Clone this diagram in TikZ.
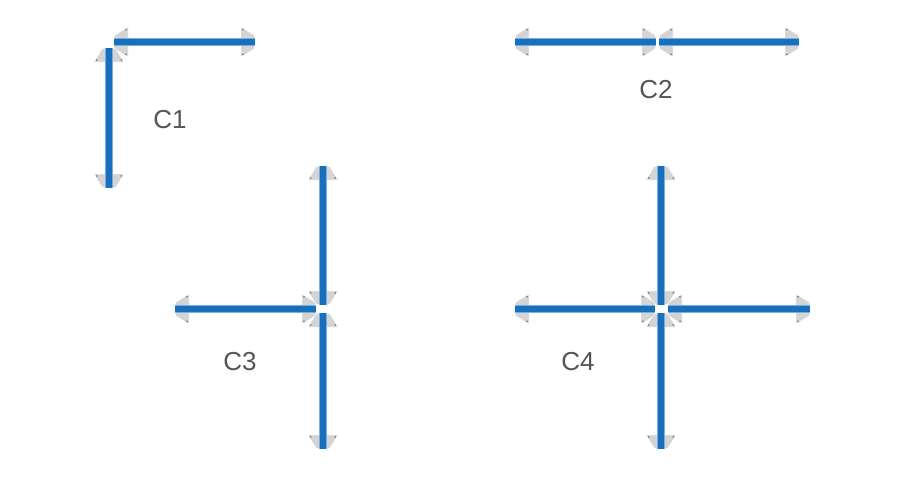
\documentclass[tikz,border=0pt]{standalone}
\usepackage{fontspec}
\setmainfont{Liberation Sans}
\definecolor{lineblue}{RGB}{22,112,190}
\definecolor{edgeblue}{RGB}{120,175,222}
\definecolor{tipgray}{RGB}{212,212,212}
\definecolor{dotgray}{RGB}{110,110,110}
\definecolor{labelgray}{RGB}{85,85,85}
\tikzset{
  tipshape/.pic={
    \fill[tipgray,draw=white,line width=0.4pt] (-14,-15) -- (-14,15) -- (-1,7)
      .. controls (0.3,5) and (0.3,-5) .. (-1,-7) -- cycle;
    \fill[dotgray] (-12,12.3) circle (0.9);
    \fill[dotgray] (-12,-12.3) circle (0.9);
  },
  blueline/.style={line width=6pt,draw=lineblue,
     preaction={draw=edgeblue,line width=7.4pt}},
  lbl/.style={font=\fontsize{26}{30}\selectfont,text=labelgray,inner sep=0pt}
}
\newcommand{\seg}[4]{%
  \pic[rotate=#3] at (#1) {tipshape};
  \pic[rotate=#4] at (#2) {tipshape};
}
\begin{document}
\begin{tikzpicture}[x=1pt,y=-1pt]
\useasboundingbox[fill=white] (0,0) rectangle (900,480);
% C1
\coordinate (c1hA) at (114,42); \coordinate (c1hB) at (255,42);
\coordinate (c1vA) at (109,48); \coordinate (c1vB) at (109,188);
% C2
\coordinate (c2aA) at (515,42); \coordinate (c2aB) at (656,42);
\coordinate (c2bA) at (659,42); \coordinate (c2bB) at (799,42);
% C3
\coordinate (c3tA) at (323,166); \coordinate (c3tB) at (323,305);
\coordinate (c3bA) at (323,313); \coordinate (c3bB) at (323,449);
\coordinate (c3hA) at (175,309); \coordinate (c3hB) at (316,309);
% C4
\coordinate (c4tA) at (661,166); \coordinate (c4tB) at (661,305);
\coordinate (c4bA) at (661,313); \coordinate (c4bB) at (661,449);
\coordinate (c4lA) at (515,309); \coordinate (c4lB) at (655,309);
\coordinate (c4rA) at (668,309); \coordinate (c4rB) at (810,309);

% arrow heads (rotate: 0 right, 180 left, 90 up, -90 down)
\seg{c1hA}{c1hB}{180}{0}
\seg{c1vA}{c1vB}{90}{-90}
\seg{c2aA}{c2aB}{180}{0}
\seg{c2bA}{c2bB}{180}{0}
\seg{c3tA}{c3tB}{90}{-90}
\seg{c3bA}{c3bB}{90}{-90}
\seg{c3hA}{c3hB}{180}{0}
\seg{c4tA}{c4tB}{90}{-90}
\seg{c4bA}{c4bB}{90}{-90}
\seg{c4lA}{c4lB}{180}{0}
\seg{c4rA}{c4rB}{180}{0}

% lines
\draw[blueline] (c1hA) -- (c1hB);
\draw[blueline] (c1vA) -- (c1vB);
\draw[blueline] (c2aA) -- (c2aB);
\draw[blueline] (c2bA) -- (c2bB);
\draw[blueline] (c3tA) -- (c3tB);
\draw[blueline] (c3bA) -- (c3bB);
\draw[blueline] (c3hA) -- (c3hB);
\draw[blueline] (c4tA) -- (c4tB);
\draw[blueline] (c4bA) -- (c4bB);
\draw[blueline] (c4lA) -- (c4lB);
\draw[blueline] (c4rA) -- (c4rB);

% labels
\node[lbl] (l1) at (170,120) {C1};
\node[lbl] (l2) at (656,90) {C2};
\node[lbl] (l3) at (240,362) {C3};
\node[lbl] (l4) at (578,362) {C4};
\end{tikzpicture}
\end{document}
